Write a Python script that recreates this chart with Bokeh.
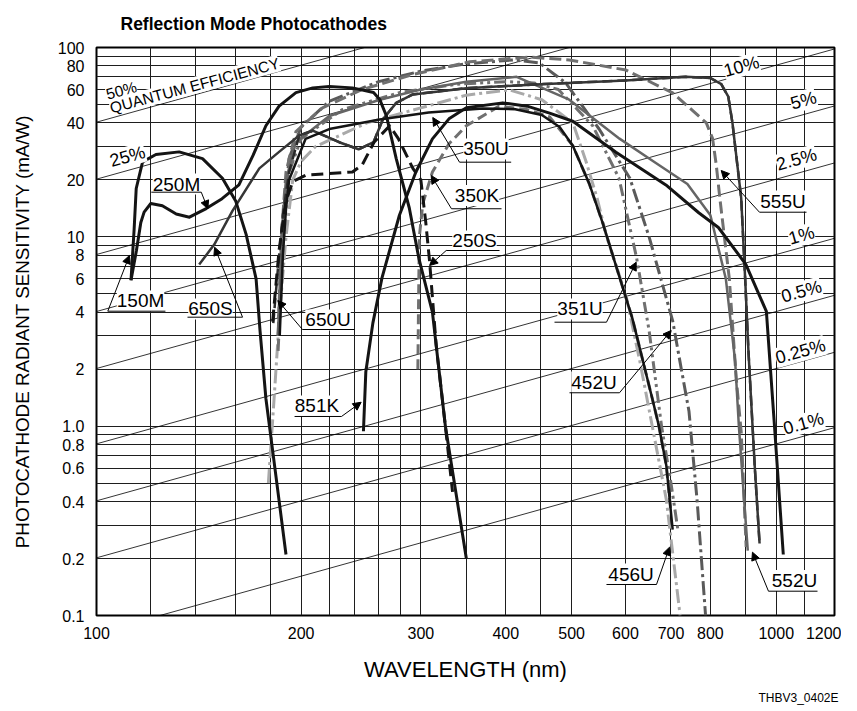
from bokeh.plotting import figure
from bokeh.models import Range1d, FixedTicker, Label, Arrow, NormalHead, CustomJSTickFormatter, Title
from bokeh.embed import file_html
from bokeh.resources import INLINE

# ---------------- data ----------------
x_ticks = [100, 200, 300, 400, 500, 600, 700, 800, 1000, 1200]
y_ticks = [0.1, 0.2, 0.4, 0.6, 0.8, 1, 2, 4, 6, 8, 10, 20, 40, 60, 80, 100]
x_grid = [120, 140, 160, 180, 200, 220, 240, 260, 280, 300, 350, 400, 450, 500,
          600, 700, 800, 900, 1000, 1100]
y_grid = [0.2, 0.3, 0.4, 0.5, 0.6, 0.7, 0.8, 0.9, 1, 2, 3, 4, 5, 6, 7, 8, 9,
          10, 20, 30, 40, 50, 60, 70, 80, 90]
qe_percent = [50, 25, 10, 5, 2.5, 1, 0.5, 0.25, 0.1]

wl_150M = [112.4, 113.6, 114.4, 116.9, 122.3, 132.3, 143.2, 153.2, 160.3, 166.0, 171.7, 174.0, 177.5, 183.0, 190.0]
s_150M = [5.9, 11.0, 18.0, 24.9, 27.2, 28.1, 25.9, 20.4, 15.4, 10.3, 6.0, 3.2, 1.4, 0.6, 0.21]

wl_250M = [112.4, 114.5, 116.2, 117.5, 120.2, 125.0, 131.0, 137.0, 145.0, 153.0, 162.0, 170.0, 177.5, 185.6,
           196.5, 208.0, 220.0, 238.0, 255.6, 261.0, 267.0, 276.0, 288.5, 298.0, 312.0, 326.0, 350.0]
s_250M = [5.9, 8.5, 11.9, 13.5, 15.0, 14.6, 13.2, 12.7, 14.1, 15.9, 18.8, 27.0, 38.6, 49.0,
          57.8, 61.2, 62.3, 61.2, 57.8, 53.2, 43.5, 25.9, 14.2, 7.7, 4.0, 1.0, 0.2]

wl_650S = [141.6, 149.0, 158.5, 173.6, 185.6, 198.7, 208.0, 227.5, 243.0, 255.6, 263.7, 276.0, 292.0, 350, 450,
           600, 736, 800, 830, 850, 862, 872, 888, 900, 910, 918, 930, 945]
s_650S = [7.15, 9.1, 13.7, 23.0, 28.1, 34.3, 36.4, 31.6, 29.0, 31.6, 41.7, 51.0, 56.5, 61, 64,
          67, 70, 69, 64, 55, 40, 28, 16, 6.0, 2.5, 1.4, 0.6, 0.24]

wl_650U = [182, 185, 188, 192, 198.7, 208.0, 227.5, 243.0, 255.6, 263.7, 276.0, 292.0, 350, 450,
           600, 736, 800, 830, 850, 862, 872, 888, 900, 910, 918, 930, 945]
s_650U = [3.5, 7, 13, 22, 34.3, 36.4, 31.6, 29.0, 31.6, 41.7, 51.0, 56.5, 61, 64,
          67, 70, 69, 64, 55, 40, 28, 16, 6.0, 2.5, 1.4, 0.6, 0.24]

wl_250S = [181.6, 185.6, 190, 194.4, 203.4, 220, 238, 246, 256, 270, 278, 292, 300, 305, 309, 316, 326, 334]
s_250S = [3.57, 8.5, 15.4, 19.6, 21.2, 21.6, 22, 24, 31.6, 38.6, 33, 23, 20, 12, 7.45, 2.68, 1.0, 0.45]

wl_350U = [186, 188, 190, 192, 203, 220, 261, 308, 370, 413, 452, 480, 502, 531, 556, 614, 657, 672, 689, 704]
s_350U = [3, 8, 14, 20, 32.9, 37.1, 41.7, 45.3, 47.6, 47.2, 44, 38, 30.3, 19, 11.7, 3.72, 1.4, 1.0, 0.62, 0.284]

wl_350K = [297, 297.8, 298.5, 302, 312, 330, 350, 391, 430, 464, 502, 531, 556, 614, 657, 672, 689, 700]
s_350K = [2.0, 5, 10, 15, 22, 31, 38.6, 49, 47, 43, 30.3, 19, 11.7, 3.72, 1.4, 1.0, 0.62, 0.35]

wl_851K = [247, 249, 255, 263, 279, 295, 312, 330, 350, 396, 430, 464, 502, 581, 688, 769, 822, 902, 967, 994, 1024]
s_851K = [0.94, 1.94, 3.5, 6.07, 13, 22, 32.9, 42, 48, 51, 49, 45, 40.8, 28, 18.8, 13.4, 11.2, 7.16, 4.04, 1.0, 0.21]

wl_555U = [185, 187, 190, 196.5, 215, 246, 292, 354, 433, 496, 601, 704, 789, 806, 816, 826, 853, 873, 888, 903]
s_555U = [3, 10, 22, 36, 48, 60, 72, 84, 89, 86, 76, 57.6, 40, 33, 24, 16, 6, 1.8, 0.93, 0.23]

wl_552U = [185, 187, 190, 196.5, 220, 261, 300, 350, 415, 496, 588, 660, 740, 800, 843, 870, 881, 895, 908]
s_552U = [3, 10, 20, 31.6, 43.5, 53, 60, 66, 70, 53, 33, 25, 19, 13, 6, 2.2, 1.0, 0.45, 0.22]

wl_452U = [185, 188, 192, 200, 220, 260, 300, 350, 410, 448, 490, 549, 609, 650, 704, 725, 744, 765, 787]
s_452U = [3, 12, 26, 38, 52, 66, 75, 82, 86, 83, 65, 37, 20.4, 10, 3.6, 2.0, 1.2, 0.4, 0.1]

wl_351U = [185, 188, 192, 200, 230, 280, 340, 400, 440, 478, 537, 587, 623, 650, 678, 700, 717]
s_351U = [2.5, 9, 22, 33, 47, 58, 64, 66, 65, 60, 38.6, 20.4, 7.76, 3.2, 1.0, 0.5, 0.28]

wl_456U = [179, 182.5, 186, 190, 194.4, 200, 210, 250, 300, 350, 405, 452, 502, 525, 545, 563, 601, 630, 657,
           689, 722]
s_456U = [0.5, 1.4, 4, 10, 20, 25, 30, 40, 48, 56, 59.7, 53, 40, 25, 16, 10, 4.9, 2.2, 1.0, 0.41, 0.1]

# ---------------- figure ----------------
FONT = "Liberation Sans"
p = figure(x_axis_type="log", y_axis_type="log",
           x_range=Range1d(100, 1218), y_range=Range1d(0.1, 100),
           frame_width=738, frame_height=568,
           min_border_left=96, min_border_right=7, min_border_top=47, min_border_bottom=90,
           output_backend="svg", toolbar_location=None,
           title="Reflection Mode Photocathodes")
p.title.text_font = FONT
p.title.text_font_size = "17.5px"
p.title.text_font_style = "bold"
p.title.text_color = "black"
p.title.align = "left"
p.title.vertical_align = "top"
p.title.offset = 24
p.title.standoff = 23

p.background_fill_color = "white"
p.border_fill_color = "white"
p.outline_line_color = "black"
p.outline_line_width = 2

p.xgrid.ticker = FixedTicker(ticks=x_grid)
p.ygrid.ticker = FixedTicker(ticks=y_grid)
for g in (p.xgrid, p.ygrid):
    g.grid_line_color = "#1e1e1e"
    g.grid_line_width = 1
    g.grid_line_alpha = 1.0

p.xaxis.ticker = FixedTicker(ticks=x_ticks)
p.yaxis.ticker = FixedTicker(ticks=y_ticks)
p.xaxis.formatter = CustomJSTickFormatter(code="return tick.toFixed(0);")
p.yaxis.formatter = CustomJSTickFormatter(code="return tick <= 1.0001 ? tick.toFixed(1) : tick.toFixed(0);")
for ax in (p.xaxis, p.yaxis):
    ax.axis_line_color = None
    ax.major_tick_line_color = None
    ax.minor_tick_line_color = None
    ax.major_label_text_font = FONT
    ax.major_label_text_font_size = "16px"
    ax.major_label_text_color = "black"
    ax.axis_label_text_font = FONT
    ax.axis_label_text_font_style = "normal"
    ax.axis_label_text_color = "black"
p.xaxis.major_label_standoff = 5
p.yaxis.major_label_standoff = 6
p.xaxis.axis_label = "WAVELENGTH (nm)"
p.yaxis.axis_label = "PHOTOCATHODE RADIANT SENSITIVITY (mA/W)"
p.xaxis.axis_label_text_font_size = "22px"
p.yaxis.axis_label_text_font_size = "18.8px"
p.xaxis.axis_label_standoff = 15
p.yaxis.axis_label_standoff = 22

p.add_layout(Title(text="THBV3_0402E", align="right", offset=-4, text_font=FONT,
                   text_font_size="12px", text_font_style="normal", text_color="black",
                   standoff=9), "below")

# quantum efficiency lines: S[mA/W] = QE * wavelength[nm] / 1.23984
x_end = [100, 1218]
for q in qe_percent:
    p.line(x_end, [q / 100.0 * w / 1.23984 for w in x_end], line_color="black", line_width=0.8)

# curves
BLACK, DARK, MID, MID2, LIGHT = "#141414", "#363636", "#707070", "#5a5a5a", "#a9a9a9"
curves = [
    (wl_456U, s_456U, LIGHT, 3, "14 4 3 4"),
    (wl_351U, s_351U, MID, 3, "12 4 3 4 3 4"),
    (wl_452U, s_452U, MID2, 3, "14 4 3 4"),
    (wl_555U, s_555U, MID, 3, "12 5"),
    (wl_552U, s_552U, "#656565", 2.5, "solid"),
    (wl_350K, s_350K, MID, 3, "10 5"),
    (wl_650U, s_650U, "#2a2a2a", 2.5, "10 5"),
    (wl_650S, s_650S, DARK, 2.5, "solid"),
    (wl_250S, s_250S, BLACK, 3, "12 6"),
    (wl_350U, s_350U, BLACK, 2.5, "solid"),
    (wl_851K, s_851K, BLACK, 3, "solid"),
    (wl_150M, s_150M, BLACK, 3, "solid"),
    (wl_250M, s_250M, BLACK, 3, "solid"),
]
for wl, s, col, lw, dash in curves:
    p.line(wl, s, line_color=col, line_width=lw, line_dash=dash, line_join="round", line_cap="butt")

# curve name labels: (text, label x, label y, underline x0, x1, underline y, leader start x, y, arrow tip x, y)
name_labels = [
    ("250M", 131.1, 19.01, 120.4, 142.6, 17.21, 142.6, 17.21, 145.8, 14.07),
    ("150M", 116.1, 4.583, 103.9, 126.3, 4.048, 103.9, 4.048, 111.8, 7.97),
    ("650S", 147.1, 4.158, 136.1, 164.0, 3.763, 164.0, 3.763, 149.2, 8.817),
    ("650U", 219.1, 3.638, 200.9, 239.6, 3.240, 200.9, 3.240, 184.8, 4.610),
    ("851K", 211.0, 1.278, 195.6, 229.3, 1.125, 229.3, 1.125, 245.1, 1.338),
    ("350U", 374.1, 29.11, 342.0, 407.4, 24.79, 342.0, 24.79, 312.4, 42.69),
    ("350K", 362.9, 16.53, 332.8, 394.3, 14.07, 332.8, 14.07, 310.7, 21.09),
    ("250S", 359.8, 9.507, 326.9, 391.6, 8.468, 326.9, 8.468, 309.0, 7.056),
    ("555U", 1022.9, 15.46, 944.7, 1107.8, 13.49, 944.7, 13.49, 829.8, 22.41),
    ("351U", 514.4, 4.158, 471.8, 562.6, 3.541, 562.6, 3.541, 622.2, 7.346),
    ("452U", 539.3, 1.711, 496.4, 588.0, 1.501, 588.0, 1.501, 700.5, 3.202),
    ("456U", 611.4, 0.1656, 562.6, 666.5, 0.1458, 666.5, 0.1458, 696.5, 0.2295),
    ("552U", 1063.6, 0.1531, 973.9, 1149.9, 0.1344, 973.9, 0.1344, 922.5, 0.2160),
]
for (t, lx, ly, ux0, ux1, uy, sx, sy, tx, ty) in name_labels:
    p.add_layout(Label(x=lx, y=ly, text=t, text_align="center", text_baseline="middle",
                       text_font=FONT, text_font_size="19px", text_color="black",
                       background_fill_color="white", background_fill_alpha=1.0))
for (t, lx, ly, ux0, ux1, uy, sx, sy, tx, ty) in name_labels:
    p.add_layout(Arrow(end=None, x_start=ux0, y_start=uy, x_end=ux1, y_end=uy,
                       line_color="black", line_width=1))
    p.add_layout(Arrow(end=NormalHead(size=8, fill_color="black", line_color="black", line_width=1),
                       x_start=sx, y_start=sy, x_end=tx, y_end=ty, line_color="black", line_width=1))

# quantum efficiency labels: (text, x, y, font size, angle)
qe_labels = [
    ("50%", 108.8, 59.3, "15.5px", 15),
    ("QUANTUM EFFICIENCY", 139.4, 63.0, "15.5px", 15),
    ("25%", 111.1, 26.57, "18px", 15.5),
    ("10%", 888.8, 79.37, "18px", 15.5),
    ("5%", 1096.5, 52.5, "18px", 15.5),
    ("2.5%", 1070.7, 25.62, "18px", 15.5),
    ("1%", 1089.0, 10.16, "18px", 15.5),
    ("0.5%", 1089.0, 5.143, "18px", 15.5),
    ("0.25%", 1085.3, 2.48, "18px", 15.5),
    ("0.1%", 1096.5, 1.033, "18px", 15.5),
]
for t, lx, ly, fs, ang in qe_labels:
    p.add_layout(Label(x=lx, y=ly, text=t, text_align="center", text_baseline="middle",
                       angle=ang, angle_units="deg", text_font=FONT, text_font_size=fs,
                       text_color="black", background_fill_color="white", background_fill_alpha=1.0))

open("out.html", "w").write(file_html(p, INLINE))
